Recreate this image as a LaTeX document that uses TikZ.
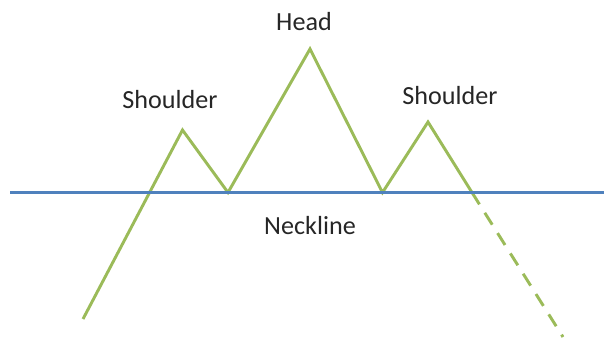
\documentclass[tikz,border=0pt]{standalone}
\usepackage{fontspec}
\setmainfont{Carlito}
\usepackage{tikz}
\definecolor{neckblue}{HTML}{4F81BD}
\definecolor{trendgreen}{HTML}{9BBB59}

\begin{document}
\begin{tikzpicture}[x=0.75pt,y=-0.75pt,
  price/.style={trendgreen,line width=2.2pt},
  neck/.style={neckblue,line width=2.2pt},
  txt/.style={font=\fontsize{19.6}{24}\selectfont,text=black!85,inner sep=0pt}]
\useasboundingbox (0,0) rectangle (604,340);
\coordinate (start) at (83,319);
\coordinate (lshoulder) at (182.5,130);
\coordinate (ltrough) at (228,192.5);
\coordinate (head) at (310,49);
\coordinate (rtrough) at (382.5,192.5);
\coordinate (rshoulder) at (428,122);
\coordinate (break) at (472,192.5);
\coordinate (target) at (563,337);
\coordinate (nleft) at (10,192.5);
\coordinate (nright) at (604,192.5);
\draw[price] (start) -- (lshoulder) -- (ltrough) -- (head) -- (rtrough) -- (rshoulder) -- (break);
\draw[price,dash pattern=on 10.5pt off 7.5pt] (break) -- (target);
\draw[neck] (nleft) -- (nright);
\node[txt] (headtxt) at (304,22) {Head};
\node[txt] (lshtxt) at (170,100) {Shoulder};
\node[txt] (rshtxt) at (450,96) {Shoulder};
\node[txt] (necktxt) at (310,226) {Neckline};
\end{tikzpicture}
\end{document}
